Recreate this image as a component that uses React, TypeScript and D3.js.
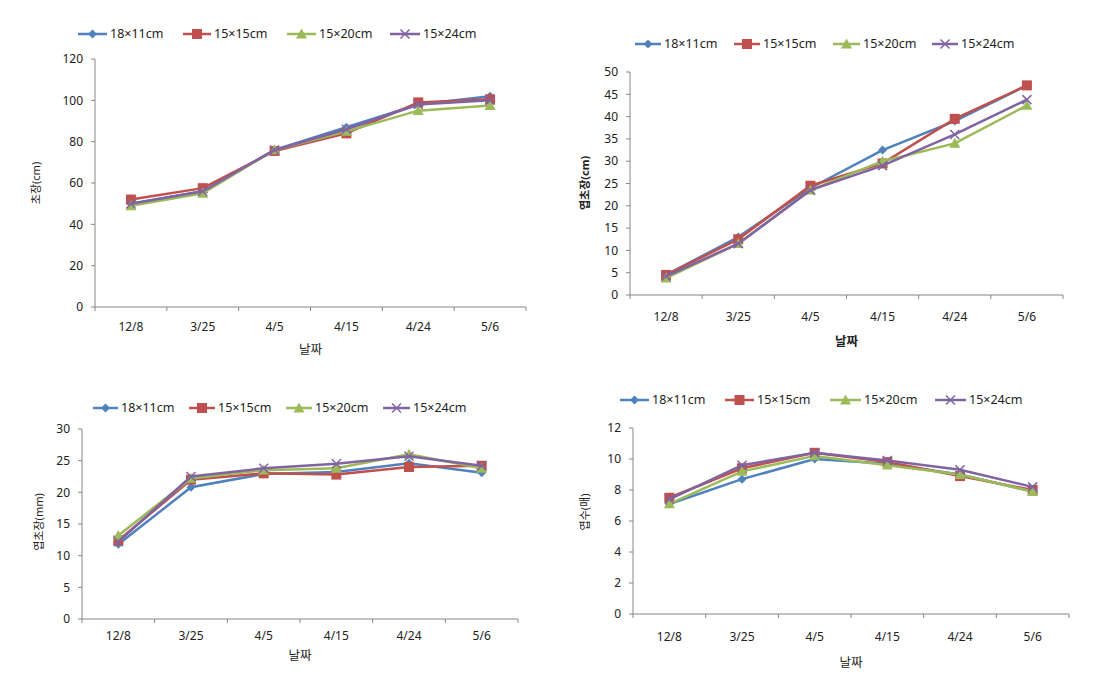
import React from "react";
import * as d3 from "d3";

const categories = ["12/8", "3/25", "4/5", "4/15", "4/24", "5/6"];
const seriesNames = ["18×11cm", "15×15cm", "15×20cm", "15×24cm"];

// Panel 1: 초장(cm)
const p1_18x11 = [50, 56, 76, 87, 98, 102];
const p1_15x15 = [52, 57.5, 75.5, 84, 99, 100.5];
const p1_15x20 = [49, 55, 76, 85, 95, 97.5];
const p1_15x24 = [50, 56, 76, 86, 98, 100];
const p1Ticks = [0, 20, 40, 60, 80, 100, 120];

// Panel 2: 엽초장(cm)
const p2_18x11 = [4.5, 13, 24, 32.5, 39, 47];
const p2_15x15 = [4.5, 12.5, 24.5, 29.5, 39.5, 47];
const p2_15x20 = [3.8, 11.5, 23.5, 30, 34, 42.5];
const p2_15x24 = [4.2, 11.5, 23.5, 29, 36, 43.8];
const p2Ticks = [0, 5, 10, 15, 20, 25, 30, 35, 40, 45, 50];

// Panel 3: 엽초장(mm)
const p3_18x11 = [11.8, 20.8, 22.9, 23.2, 24.6, 23.1];
const p3_15x15 = [12.4, 22, 23, 22.8, 24, 24.2];
const p3_15x20 = [13.2, 22.2, 23.5, 23.8, 26, 23.8];
const p3_15x24 = [12.2, 22.5, 23.8, 24.5, 25.7, 24.2];
const p3Ticks = [0, 5, 10, 15, 20, 25, 30];

// Panel 4: 엽수(매)
const p4_18x11 = [7.1, 8.7, 10, 9.7, 9, 7.9];
const p4_15x15 = [7.5, 9.4, 10.4, 9.8, 8.9, 8.0];
const p4_15x20 = [7.1, 9.2, 10.2, 9.6, 9.0, 7.9];
const p4_15x24 = [7.4, 9.6, 10.4, 9.9, 9.3, 8.2];
const p4Ticks = [0, 2, 4, 6, 8, 10, 12];

const colors = ["#4F81BD", "#C0504D", "#9BBB59", "#8064A2"];
const markers = ["diamond", "square", "triangle", "x"];

const FONT = "'Noto Sans', 'Noto Sans CJK KR', sans-serif";

type PanelCfg = {
  x0: number; x1: number; yTop: number; yBot: number;
  yMax: number; ticks: number[];
  data: number[][];
  yLabel: string; yLabelX: number; yLabelY: number; bold: boolean;
  tickLabelY: number; xLabelY: number;
  legendY: number; legendLineX: number[]; legendTextX: number[];
};

const panels: PanelCfg[] = [
  {
    x0: 95, x1: 526, yTop: 59, yBot: 307, yMax: 120, ticks: p1Ticks,
    data: [p1_18x11, p1_15x15, p1_15x20, p1_15x24],
    yLabel: "초장(cm)", yLabelX: 36, yLabelY: 183, bold: false,
    tickLabelY: 327, xLabelY: 350,
    legendY: 34, legendLineX: [78, 183, 287, 390], legendTextX: [110, 214, 319, 423],
  },
  {
    x0: 630, x1: 1063, yTop: 72, yBot: 295, yMax: 50, ticks: p2Ticks,
    data: [p2_18x11, p2_15x15, p2_15x20, p2_15x24],
    yLabel: "엽초장(cm)", yLabelX: 585, yLabelY: 183, bold: true,
    tickLabelY: 317, xLabelY: 342,
    legendY: 44, legendLineX: [635, 734, 833, 932], legendTextX: [664, 763, 863, 961],
  },
  {
    x0: 82, x1: 518, yTop: 429, yBot: 619, yMax: 30, ticks: p3Ticks,
    data: [p3_18x11, p3_15x15, p3_15x20, p3_15x24],
    yLabel: "엽초장(mm)", yLabelX: 39, yLabelY: 522, bold: false,
    tickLabelY: 636, xLabelY: 656,
    legendY: 408, legendLineX: [93, 189, 286, 383], legendTextX: [121, 218, 315, 413],
  },
  {
    x0: 633, x1: 1069, yTop: 428, yBot: 614, yMax: 12, ticks: p4Ticks,
    data: [p4_18x11, p4_15x15, p4_15x20, p4_15x24],
    yLabel: "엽수(매)", yLabelX: 585, yLabelY: 512, bold: false,
    tickLabelY: 637, xLabelY: 663,
    legendY: 400, legendLineX: [620, 725, 830, 935], legendTextX: [652, 757, 864, 969],
  },
];

function Marker({ kind, x, y, color }: { kind: string; x: number; y: number; color: string }) {
  if (kind === "diamond") {
    const r = 4.5;
    return <path d={`M${x},${y - r}L${x + r},${y}L${x},${y + r}L${x - r},${y}Z`} fill={color} />;
  }
  if (kind === "square") {
    const r = 5;
    return <rect x={x - r} y={y - r} width={2 * r} height={2 * r} fill={color} />;
  }
  if (kind === "triangle") {
    const r = 5.5;
    return <path d={`M${x},${y - r}L${x + r},${y + r * 0.8}L${x - r},${y + r * 0.8}Z`} fill={color} />;
  }
  const r = 4.5;
  return (
    <path d={`M${x - r},${y - r}L${x + r},${y + r}M${x - r},${y + r}L${x + r},${y - r}`} stroke={color} strokeWidth={1.5} fill="none" />
  );
}

function Panel({ cfg }: { cfg: PanelCfg }) {
  const x = d3.scaleBand<string>().domain(categories).range([cfg.x0, cfg.x1]);
  const y = d3.scaleLinear().domain([0, cfg.yMax]).range([cfg.yBot, cfg.yTop]);
  const cx = (c: string) => (x(c) as number) + x.bandwidth() / 2;
  const line = d3.line<number>().x((_, i) => cx(categories[i])).y((v) => y(v));
  const bounds = [...categories.map((c) => x(c) as number), cfg.x1];
  const axisColor = "#868686";
  return (
    <g fontFamily={FONT}>
      {/* legend */}
      {seriesNames.map((name, i) => (
        <g key={name}>
          <line x1={cfg.legendLineX[i]} x2={cfg.legendTextX[i] - 3} y1={cfg.legendY} y2={cfg.legendY} stroke={colors[i]} strokeWidth={2.5} />
          <Marker kind={markers[i]} x={(cfg.legendLineX[i] + cfg.legendTextX[i] - 3) / 2} y={cfg.legendY} color={colors[i]} />
          <text x={cfg.legendTextX[i]} y={cfg.legendY} dy="0.35em" fontSize={12.5} fill="#222">{name}</text>
        </g>
      ))}
      {/* y axis */}
      <line x1={cfg.x0} x2={cfg.x0} y1={cfg.yTop} y2={cfg.yBot} stroke={axisColor} />
      {cfg.ticks.map((t) => (
        <g key={t}>
          <line x1={cfg.x0 - 4} x2={cfg.x0} y1={y(t)} y2={y(t)} stroke={axisColor} />
          <text x={cfg.x0 - 12} y={y(t)} dy="0.35em" textAnchor="end" fontSize={12} fill="#222">{t}</text>
        </g>
      ))}
      {/* x axis */}
      <line x1={cfg.x0} x2={cfg.x1} y1={cfg.yBot} y2={cfg.yBot} stroke={axisColor} />
      {bounds.map((b, i) => (
        <line key={i} x1={b} x2={b} y1={cfg.yBot} y2={cfg.yBot + 4} stroke={axisColor} />
      ))}
      {categories.map((c) => (
        <text key={c} x={cx(c)} y={cfg.tickLabelY} dy="0.35em" textAnchor="middle" fontSize={12} fill="#222">{c}</text>
      ))}
      <text x={(cfg.x0 + cfg.x1) / 2} y={cfg.xLabelY} dy="0.35em" textAnchor="middle" fontSize={12.5} fontWeight={cfg.bold ? "bold" : "normal"} fill="#222">날짜</text>
      <text transform={`translate(${cfg.yLabelX},${cfg.yLabelY}) rotate(-90)`} dy="0.35em" textAnchor="middle" fontSize={11} fontWeight={cfg.bold ? "bold" : "normal"} fill="#222">{cfg.yLabel}</text>
      {/* series */}
      {cfg.data.map((vals, si) => (
        <g key={si}>
          <path d={line(vals) || ""} fill="none" stroke={colors[si]} strokeWidth={2.5} />
          {vals.map((v, i) => (
            <Marker key={i} kind={markers[si]} x={cx(categories[i])} y={y(v)} color={colors[si]} />
          ))}
        </g>
      ))}
    </g>
  );
}

export default function App() {
  return (
    <svg width={1108} height={689} style={{ position: "absolute", left: 0, top: 0, background: "#fff" }}>
      <rect width={1108} height={689} fill="#fff" />
      {panels.map((p, i) => (
        <Panel key={i} cfg={p} />
      ))}
    </svg>
  );
}
